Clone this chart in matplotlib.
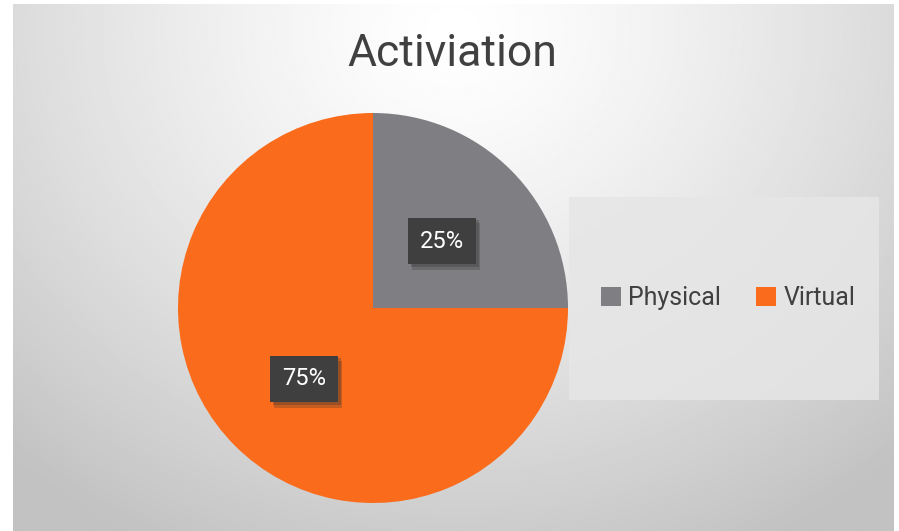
import numpy as np
import matplotlib
matplotlib.use('Agg')
import matplotlib.pyplot as plt
import matplotlib.patheffects as pe
from matplotlib.patches import Rectangle

plt.rcParams['font.family'] = ['Roboto', 'DejaVu Sans']

title = "Activiation"
labels = ["Physical", "Virtual"]
shares = [25, 75]
colors = ["#7f7f83", "#fa6b1b"]

W, H = 899, 531
fig = plt.figure(figsize=(W / 100, H / 100), dpi=100)
fig.patch.set_facecolor('white')

# background card with a soft radial gradient
bg = fig.add_axes([13 / W, 0, (894 - 13) / W, (531 - 4) / H])
yy, xx = np.mgrid[0:1:300j, 0:1:500j]
r = np.sqrt(((xx - 0.5) / 0.75) ** 2 + ((yy - 0.05) / 1.1) ** 2)
shade = 1.0 - 0.24 * np.clip(r, 0, 1) ** 1.3
bg.imshow(shade, cmap='gray', vmin=0, vmax=1, aspect='auto',
          extent=[0, 1, 1, 0], interpolation='bilinear')
bg.set_xlim(0, 1); bg.set_ylim(1, 0)
bg.axis('off')

fig.text(452 / W, 1 - 54 / H, title, ha='center', va='center',
         fontsize=32, color='#404040')

# pie
cx, cy, rad = 373, 308, 195
ax = fig.add_axes([(cx - rad) / W, (H - cy - rad) / H, 2 * rad / W, 2 * rad / H])
wedges, _ = ax.pie(shares, colors=colors, startangle=90, counterclock=False,
                   radius=1.0, wedgeprops=dict(linewidth=0))
ax.set_xlim(-1, 1); ax.set_ylim(-1, 1)
ax.set_aspect('equal')
ax.axis('off')

angle = 90.0
for w, s in zip(wedges, shares):
    mid = np.deg2rad(angle - s * 3.6 / 2)
    angle -= s * 3.6
    t = ax.text(0.5 * np.cos(mid), 0.5 * np.sin(mid) - 0.01, f"{s}%",
                ha='center', va='center', fontsize=17, color='white',
                bbox=dict(boxstyle='square,pad=0.5', facecolor='#3f3f3f',
                          edgecolor='none'))
    t.get_bbox_patch().set_path_effects([
        pe.SimplePatchShadow(offset=(3, -4), shadow_rgbFace='#303030', alpha=0.25),
        pe.SimplePatchShadow(offset=(2, -2), shadow_rgbFace='#303030', alpha=0.3),
        pe.Normal()])

# legend panel
fig.add_artist(Rectangle((569 / W, 1 - 400 / H), 310 / W, 203 / H,
                         transform=fig.transFigure, facecolor='#e6e6e6',
                         edgecolor='none', alpha=0.85))
handles = [Rectangle((0, 0), 1, 1, facecolor=c, edgecolor='none') for c in colors]
leg = fig.legend(handles, labels, loc='center', bbox_to_anchor=(728 / W, 1 - 298 / H),
                 ncol=2, frameon=False, fontsize=18, handlelength=0.8,
                 handleheight=0.8, handletextpad=0.3, columnspacing=1.4)
for txt in leg.get_texts():
    txt.set_color('#404040')

fig.savefig('out.png', dpi=100)
